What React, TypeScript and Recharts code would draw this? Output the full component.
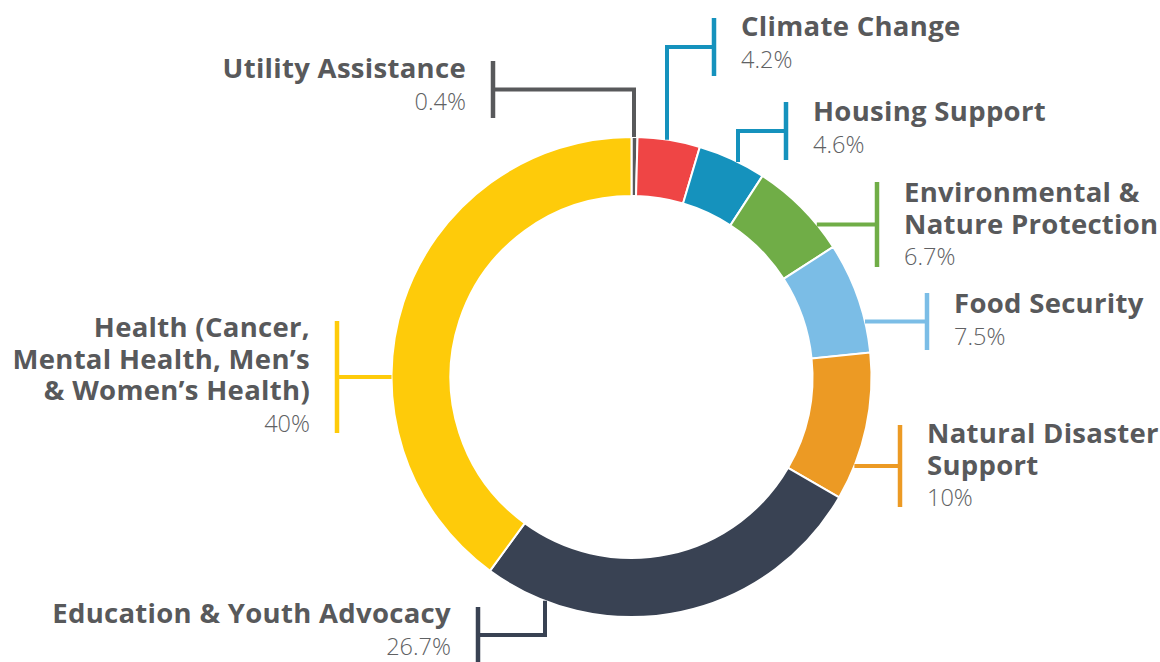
import React from 'react';
import { PieChart, Pie, Cell } from 'recharts';

// ---- data ----
const categories = [
  'Utility Assistance',
  'Climate Change',
  'Housing Support',
  'Environmental & Nature Protection',
  'Food Security',
  'Natural Disaster Support',
  'Education & Youth Advocacy',
  'Health (Cancer, Mental Health, Men’s & Women’s Health)',
];
const values = [0.4, 4.2, 4.6, 6.7, 7.5, 10, 26.7, 40];
const valueLabels = ['0.4%', '4.2%', '4.6%', '6.7%', '7.5%', '10%', '26.7%', '40%'];
const titleLines = [
  ['Utility Assistance'],
  ['Climate Change'],
  ['Housing Support'],
  ['Environmental &', 'Nature Protection'],
  ['Food Security'],
  ['Natural Disaster', 'Support'],
  ['Education & Youth Advocacy'],
  ['Health (Cancer,', 'Mental Health, Men’s', '& Women’s Health)'],
];
const sliceColors = ['#58595b', '#ef4545', '#1592bd', '#70ad47', '#7bbde6', '#ec9a24', '#394253', '#fecb0a'];
const leaderColors = ['#58595b', '#1592bd', '#1592bd', '#70ad47', '#7bbde6', '#ec9a24', '#394253', '#fecb0a'];

// ---- label layout (offsets relative to pie centre) ----
// side: text side; kind: 'top' | 'bottom' elbow from ring, or 'h' horizontal to ring
const labelLayout = [
  { side: 'left', kind: 'top', bx: -138.5, by: -287.5, ex: 2.5, half: 28.5, ty: -11.5 },
  { side: 'right', kind: 'top', bx: 82.5, by: -330, ex: 35.5, half: 29, ty: -11 },
  { side: 'right', kind: 'top', bx: 154.5, by: -246, ex: 106.5, half: 29, ty: -10 },
  { side: 'right', kind: 'h', bx: 245.5, by: -152.5, ex: 0, half: 42.5, ty: -22.5 },
  { side: 'right', kind: 'h', bx: 295.5, by: -55.5, ex: 0, half: 28.5, ty: -8.5 },
  { side: 'right', kind: 'h', bx: 268.5, by: 89, ex: 0, half: 41, ty: -23 },
  { side: 'left', kind: 'bottom', bx: -153.5, by: 258, ex: -86.5, half: 28, ty: -12 },
  { side: 'left', kind: 'h', bx: -294.5, by: 0, ex: 0, half: 56, ty: -40 },
];

const data = categories.map((name, i) => ({ name, value: values[i] }));

const TITLE_FONT = '"Open Sans", sans-serif';
const LINE_H = 31.5;

const renderLabel = (props: any) => {
  const { cx, cy, outerRadius, index } = props;
  const L = labelLayout[index];
  const color = leaderColors[index];
  const R = outerRadius;
  const barX = cx + L.bx;
  const barY = cy + L.by;
  let path = '';
  if (L.kind === 'h') {
    const ringX = cx + Math.sign(L.bx) * Math.sqrt(Math.max(R * R - L.by * L.by, 0));
    path = `M${ringX},${barY}L${barX},${barY}`;
  } else {
    const ex = cx + L.ex;
    const dyRing = Math.sqrt(Math.max(R * R - L.ex * L.ex, 0));
    const ringY = L.kind === 'top' ? cy - dyRing : cy + dyRing;
    path = `M${ex},${ringY}L${ex},${barY}L${barX},${barY}`;
  }
  const isLeft = L.side === 'left';
  const tx = barX + (isLeft ? -27 : 27);
  const lines = titleLines[index];
  const first = barY + L.ty;
  return (
    <g key={`lbl-${index}`}>
      <path d={path} stroke={color} strokeWidth={4} fill="none" />
      <line x1={barX} x2={barX} y1={barY - L.half} y2={barY + L.half} stroke={color} strokeWidth={4.5} />
      <text textAnchor={isLeft ? 'end' : 'start'} fontFamily={TITLE_FONT}>
        {lines.map((ln, j) => (
          <tspan
            key={j}
            x={tx}
            y={first + j * LINE_H}
            fontSize={27.5}
            fontWeight={700}
            letterSpacing={0.3}
            fill="#58595b"
          >
            {ln}
          </tspan>
        ))}
        <tspan x={tx} y={first + lines.length * LINE_H} fontSize={23.5} fontWeight={300} fill="#606163">
          {valueLabels[index]}
        </tspan>
      </text>
    </g>
  );
};

export default function App() {
  return (
    <div style={{ position: 'absolute', left: 0, top: 0, width: 1160, height: 662, background: '#fff' }}>
      <PieChart width={1160} height={662} margin={{ top: 0, right: 0, bottom: 0, left: 0 }}>
        <Pie
          data={data}
          dataKey="value"
          nameKey="name"
          cx={631.5}
          cy={377}
          innerRadius={181}
          outerRadius={240}
          startAngle={90}
          endAngle={-270}
          stroke="#ffffff"
          strokeWidth={2}
          label={renderLabel}
          labelLine={false}
          isAnimationActive={false}
        >
          {data.map((d, i) => (
            <Cell key={d.name} fill={sliceColors[i]} />
          ))}
        </Pie>
      </PieChart>
    </div>
  );
}
